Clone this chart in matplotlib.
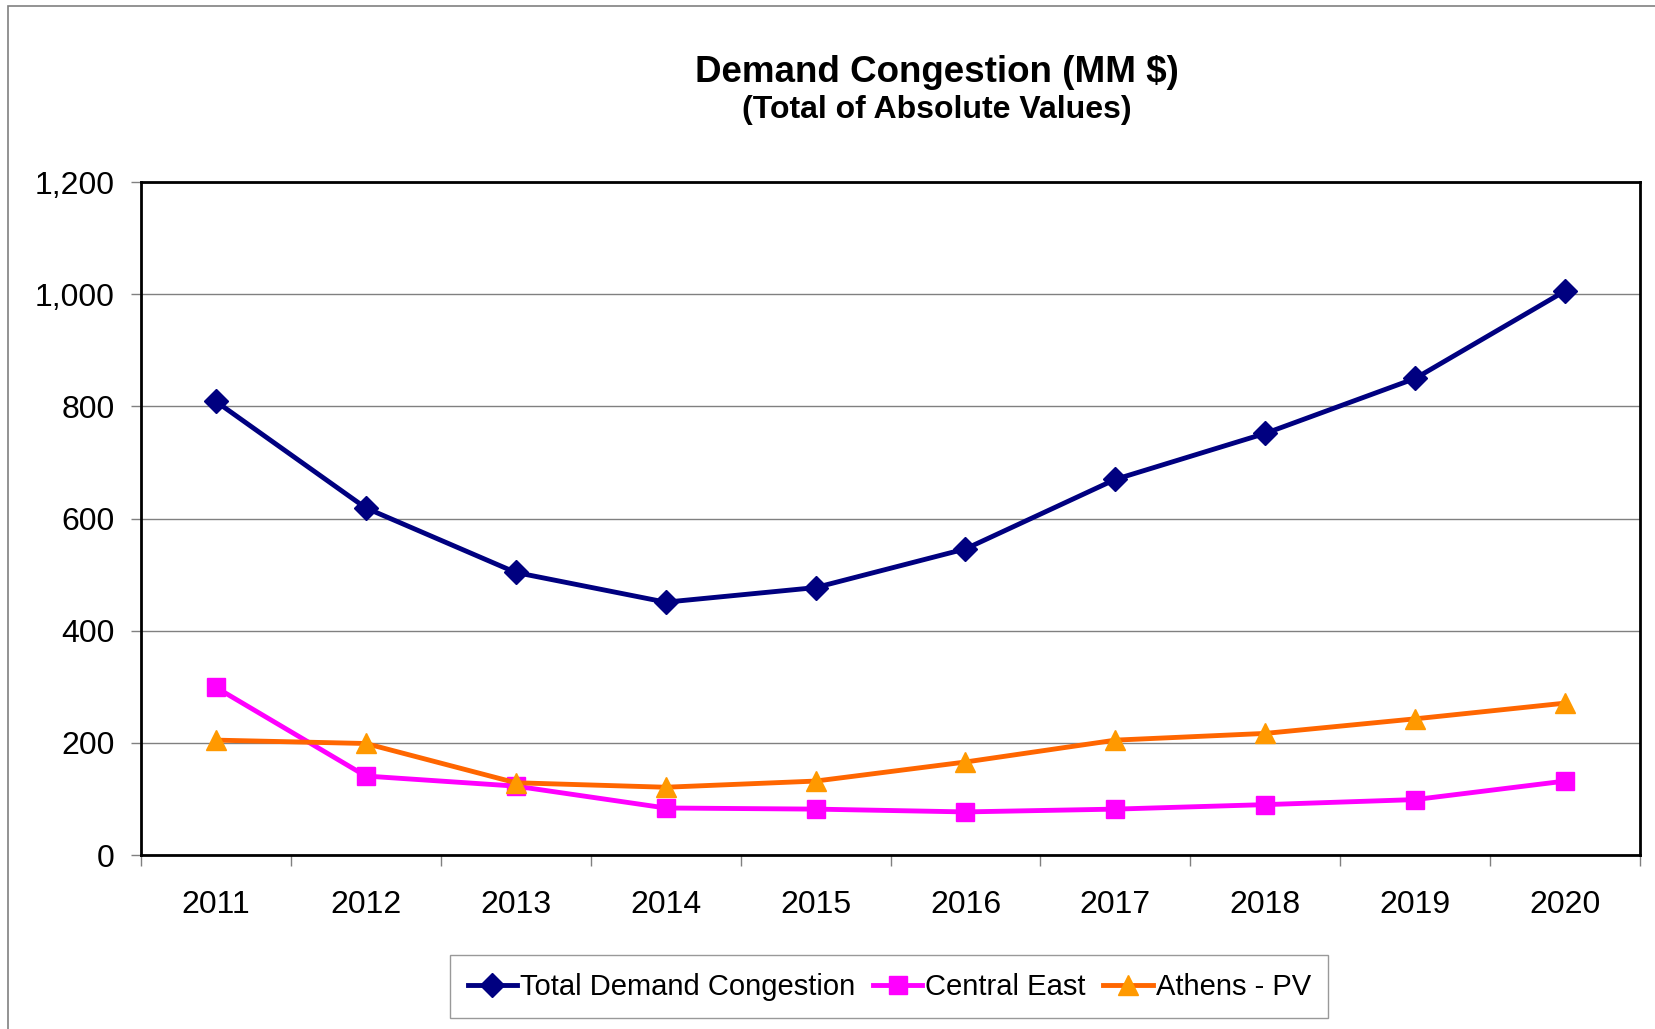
import matplotlib.pyplot as plt
from matplotlib.patches import Rectangle
from matplotlib.ticker import FuncFormatter

plt.rcParams['font.family'] = ['Liberation Sans', 'DejaVu Sans']

years = ['2011', '2012', '2013', '2014', '2015', '2016', '2017', '2018', '2019', '2020']
total_demand = [809, 619, 504, 451, 477, 546, 670, 752, 850, 1006]
central_east = [299, 141, 123, 84, 82, 77, 82, 90, 99, 132]
athens_pv = [205, 199, 129, 121, 132, 166, 205, 217, 243, 271]

fig = plt.figure(figsize=(16.56, 10.29), dpi=100)
ax = fig.add_axes([0.0851, 0.169, 0.9053, 0.654])

# outer chart frame (only left and top edges visible in the picture)
fig.patches.append(Rectangle((0.005, -0.1), 1.2, 1.094, transform=fig.transFigure,
                             fill=False, edgecolor='#808080', linewidth=1.2))

x = [i + 0.5 for i in range(len(years))]
ax.plot(x, total_demand, color='#000080', linewidth=3.5, marker='D', markersize=12,
        markerfacecolor='#000080', markeredgecolor='#000080', label='Total Demand Congestion', zorder=3)
ax.plot(x, central_east, color='#FF00FF', linewidth=3.5, marker='s', markersize=13.5,
        markerfacecolor='#FF00FF', markeredgecolor='#FF00FF', label='Central East', zorder=3)
ax.plot(x, athens_pv, color='#FF6600', linewidth=3.5, marker='^', markersize=15,
        markerfacecolor='#FF9900', markeredgecolor='#FF9900', label='Athens - PV', zorder=4)

ax.set_xlim(0, len(years))
ax.set_ylim(0, 1200)
ax.set_yticks(range(0, 1201, 200))
ax.yaxis.set_major_formatter(FuncFormatter(lambda v, p: f'{int(v):,}'))
ax.set_xticks(x)
ax.set_xticklabels(years)
ax.set_xticks(range(0, len(years) + 1), minor=True)
ax.tick_params(axis='x', which='major', length=0, pad=25, labelsize=23)
ax.tick_params(axis='x', which='minor', length=8, width=1, color='#808080')
ax.tick_params(axis='y', length=7, width=1, color='#808080', labelsize=23, pad=12)

ax.grid(axis='y', color='#808080', linewidth=1)
ax.set_axisbelow(True)
for s in ax.spines.values():
    s.set_linewidth(2)
    s.set_color('black')

fig.text(0.566, 0.930, 'Demand Congestion (MM $)', ha='center', va='center',
         fontsize=26.5, fontweight='bold')
fig.text(0.566, 0.893, '(Total of Absolute Values)', ha='center', va='center',
         fontsize=23, fontweight='bold')

leg = fig.legend(loc='center', bbox_to_anchor=(0.537, 0.041), ncol=3, fontsize=21,
                 frameon=True, fancybox=False, edgecolor='#808080', handlelength=1.7,
                 handletextpad=0.1, columnspacing=0.6, borderpad=0.6)
leg.get_frame().set_linewidth(1)

fig.savefig('out.png', dpi=100, facecolor='white')
